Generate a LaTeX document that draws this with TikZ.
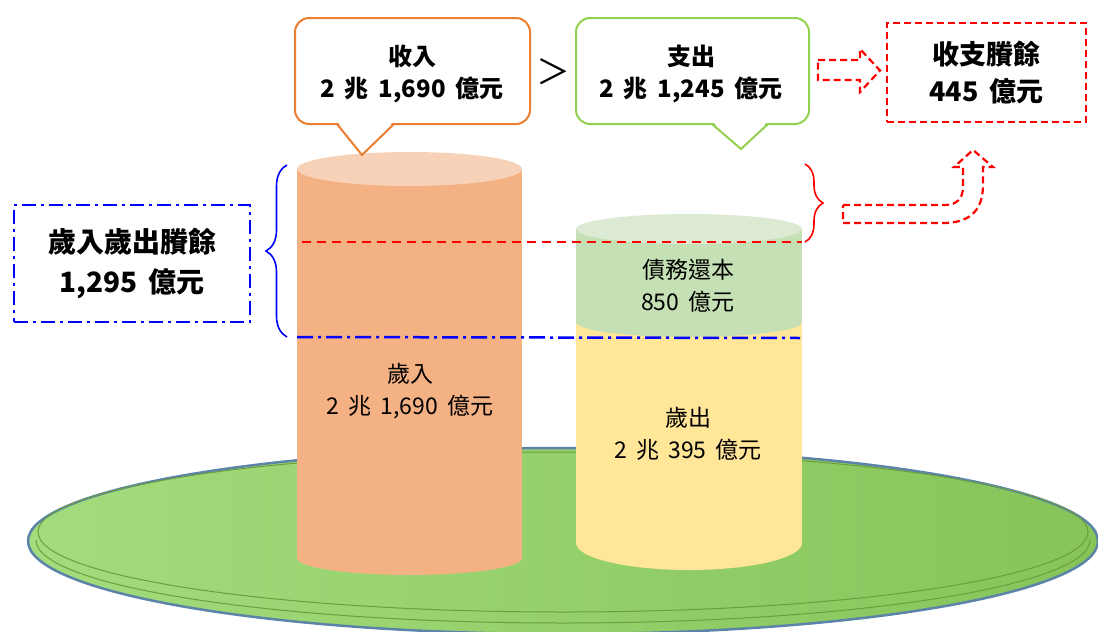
\documentclass[tikz,border=0pt]{standalone}
\usepackage{fontspec}
\setmainfont[WordSpace=1.8]{Noto Sans CJK TC}
\usetikzlibrary{decorations.pathreplacing}
\definecolor{orgline}{HTML}{ED7D31}
\definecolor{grnline}{HTML}{92D050}
\definecolor{orgbody}{HTML}{F4B183}
\definecolor{orgtop}{HTML}{F8D2B8}
\definecolor{ylwbody}{HTML}{FFE699}
\definecolor{debtbody}{HTML}{C5E0B4}
\definecolor{debttop}{HTML}{DCEAD4}
\definecolor{plateA}{HTML}{A3DC7C}
\definecolor{plateB}{HTML}{86C45A}
\definecolor{plateEdge}{HTML}{5B84A8}
\definecolor{plateRim}{HTML}{6B9E3C}
\definecolor{redd}{HTML}{FF0000}
\definecolor{bluu}{HTML}{0000FF}
\begin{document}
\begin{tikzpicture}[x=1pt,y=-1pt,
  boldtext/.style={align=center,font=\fontsize{24}{32}\selectfont\bfseries},
  bigtext/.style={align=center,font=\fontsize{28}{40}\selectfont\bfseries},
  cyltext/.style={align=center,font=\fontsize{23}{32}\selectfont},
  reddash/.style={draw=redd,line width=2.2,dash pattern=on 7pt off 4pt},
  bluedashdot/.style={draw=bluu,line width=2.2,dash pattern=on 14pt off 5pt on 3pt off 5pt},
  callout/.style={line width=2,rounded corners=14,fill=white}]
\useasboundingbox (0,0) rectangle (1098,632);
% platter
\path[draw=plateEdge,line width=2.5,left color=plateA,right color=plateB] (563,541) ellipse [x radius=535, y radius=93];
\draw[plateRim,line width=1] (563,532) ellipse [x radius=525, y radius=80];
\draw[plateRim,line width=1] (36,540) arc [start angle=180, end angle=0, x radius=527, y radius=83];
% orange cylinder
\fill[orgbody] (297,169) rectangle (522,558);
\fill[orgbody] (409.5,558) ellipse [x radius=112.5, y radius=17];
\fill[orgtop] (409.5,169) ellipse [x radius=112.5, y radius=17];
% yellow / green cylinder
\fill[ylwbody] (576,322) rectangle (802,543);
\fill[ylwbody] (689,543) ellipse [x radius=113, y radius=27];
\fill[debtbody] (576,229) rectangle (802,322);
\fill[debtbody] (689,322) ellipse [x radius=113, y radius=15];
\fill[debttop] (689,229) ellipse [x radius=113, y radius=15];
% cylinder texts
\node[cyltext] (rev) at (410,391) {歲入\\2 兆 1,690 億元};
\node[cyltext] (debt) at (688,286) {債務還本\\850 億元};
\node[cyltext] (exp) at (688,434) {歲出\\2 兆 395 億元};
% level lines
\coordinate (redL) at (302,242);
\coordinate (redR) at (802,242);
\coordinate (bluL) at (297,337);
\coordinate (bluR) at (800,338);
\draw[draw=redd,line width=2,dash pattern=on 9pt off 6pt] (redL) -- (redR);
\draw[bluedashdot,line width=2.5,dash pattern=on 16pt off 5pt on 3pt off 5pt] (bluL) -- (bluR);
% braces
\coordinate (bbB) at (287,337);
\coordinate (bbT) at (287,165);
\draw[bluu,line width=1.6,decorate,decoration={brace,amplitude=21}] (bbB) -- (bbT);
\coordinate (rbT) at (805,164);
\coordinate (rbB) at (805,242);
\draw[redd,line width=1.6,decorate,decoration={brace,amplitude=18}] (rbT) -- (rbB);
% left surplus box
\node[bluedashdot,line width=2,minimum width=236,minimum height=117,inner sep=0,bigtext] (surplus) at (132,263.5) {歲入歲出賸餘\\1,295 億元};
% right box
\node[reddash,minimum width=199,minimum height=99,inner sep=0,bigtext,font=\fontsize{27}{37}\selectfont\bfseries] (bal) at (986.5,72.5) {收支賸餘\\445 億元};
% callouts
\draw[orgline,callout] (295,18) rectangle (530,124);
\fill[white] (337,121) -- (362,155) -- (394,121) -- cycle;
\draw[orgline,line width=2,line join=miter] (337,124) -- (362,155) -- (394,124);
\node[boldtext] (inc) at (412,74) {收入\\2 兆 1,690 億元};
\draw[grnline,callout] (576,18) rectangle (809,124);
\fill[white] (712,121) -- (741,149) -- (768,121) -- cycle;
\draw[grnline,line width=2,line join=miter] (712,124) -- (741,149) -- (768,124);
\node[boldtext] (out) at (691,74) {支出\\2 兆 1,245 億元};
\node[font=\fontsize{34}{34}\selectfont] (gt) at (553,72) {＞};
% dashed arrows
\draw[reddash,line join=miter] (818,60) -- (860,60) -- (860,49) -- (880,70.5) -- (860,92) -- (860,80) -- (818,80) -- cycle;
\draw[reddash,line join=miter] (843,205) -- (945,205) .. controls (957,205) and (963,198) .. (963,187)
  -- (963,167) -- (954,167) -- (973,150) -- (993,167) -- (983,167) -- (983,185)
  .. controls (983,212) and (968,223) .. (943,223) -- (843,223) -- cycle;
\end{tikzpicture}
\end{document}
